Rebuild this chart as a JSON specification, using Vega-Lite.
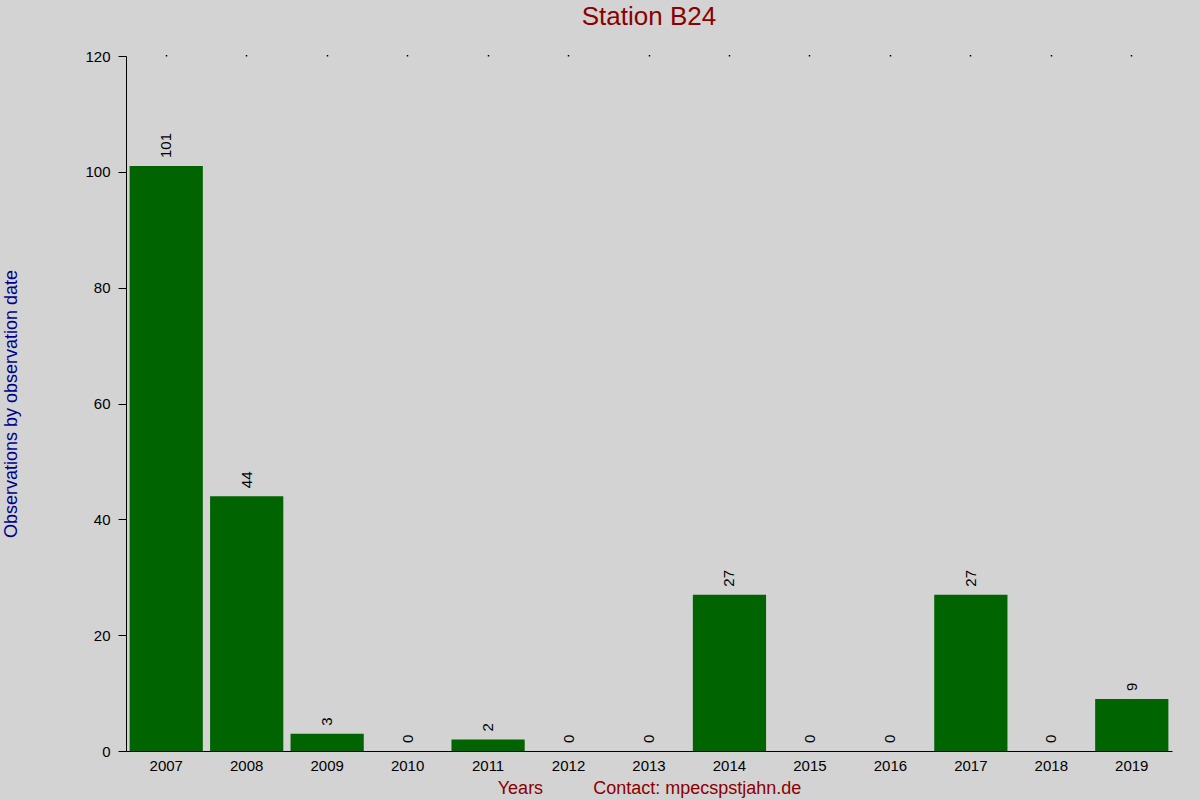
{
  "$schema": "https://vega.github.io/schema/vega-lite/v6.json",
  "width": 1046,
  "height": 695,
  "autosize": {"type": "none"},
  "padding": {"left": 126, "top": 56, "right": 28, "bottom": 49},
  "background": "#d3d3d3",
  "title": {
    "text": "Station B24",
    "color": "#8b0000",
    "fontSize": 26,
    "fontWeight": "normal",
    "font": "Liberation Sans",
    "anchor": "middle",
    "offset": 19
  },
  "config": {
    "view": {"stroke": null},
    "font": "Liberation Sans",
    "axis": {
      "domainColor": "black",
      "tickColor": "black",
      "labelColor": "black",
      "labelFont": "Liberation Sans",
      "titleFont": "Liberation Sans",
      "labelFontSize": 15,
      "titleFontSize": 18,
      "titleFontWeight": "normal",
      "grid": false
    }
  },
  "data": {
    "values": [
      {"year": "2007", "count": 101},
      {"year": "2008", "count": 44},
      {"year": "2009", "count": 3},
      {"year": "2010", "count": 0},
      {"year": "2011", "count": 2},
      {"year": "2012", "count": 0},
      {"year": "2013", "count": 0},
      {"year": "2014", "count": 27},
      {"year": "2015", "count": 0},
      {"year": "2016", "count": 0},
      {"year": "2017", "count": 27},
      {"year": "2018", "count": 0},
      {"year": "2019", "count": 9}
    ]
  },
  "layer": [
    {
      "mark": {"type": "bar", "color": "#006400"},
      "encoding": {
        "x": {
          "field": "year",
          "type": "ordinal",
          "scale": {"paddingInner": 0.09, "paddingOuter": 0.045},
          "axis": {
            "orient": "bottom",
            "title": "Years\u00a0\u00a0\u00a0\u00a0\u00a0\u00a0\u00a0\u00a0\u00a0\u00a0Contact: mpecspstjahn.de",
            "titleColor": "#8b0000",
            "labelAngle": 0,
            "ticks": false,
            "labelPadding": 7,
            "titlePadding": 6
          }
        },
        "y": {
          "field": "count",
          "type": "quantitative",
          "scale": {"domain": [0, 120], "nice": false},
          "axis": {
            "title": "Observations by observation date",
            "titleColor": "#00008b",
            "values": [0, 20, 40, 60, 80, 100, 120],
            "tickSize": 8,
            "labelPadding": 8,
            "titlePadding": 64
          }
        }
      }
    },
    {
      "mark": {
        "type": "text",
        "angle": 270,
        "align": "left",
        "baseline": "middle",
        "dx": 8,
        "fontSize": 15,
        "color": "black"
      },
      "encoding": {
        "x": {
          "field": "year",
          "type": "ordinal",
          "axis": {
            "orient": "top",
            "title": null,
            "labels": false,
            "domain": false,
            "tickSize": 1.5,
            "tickWidth": 1.5
          }
        },
        "y": {"field": "count", "type": "quantitative"},
        "text": {"field": "count", "type": "quantitative"}
      }
    }
  ],
  "resolve": {"axis": {"x": "independent"}}
}
